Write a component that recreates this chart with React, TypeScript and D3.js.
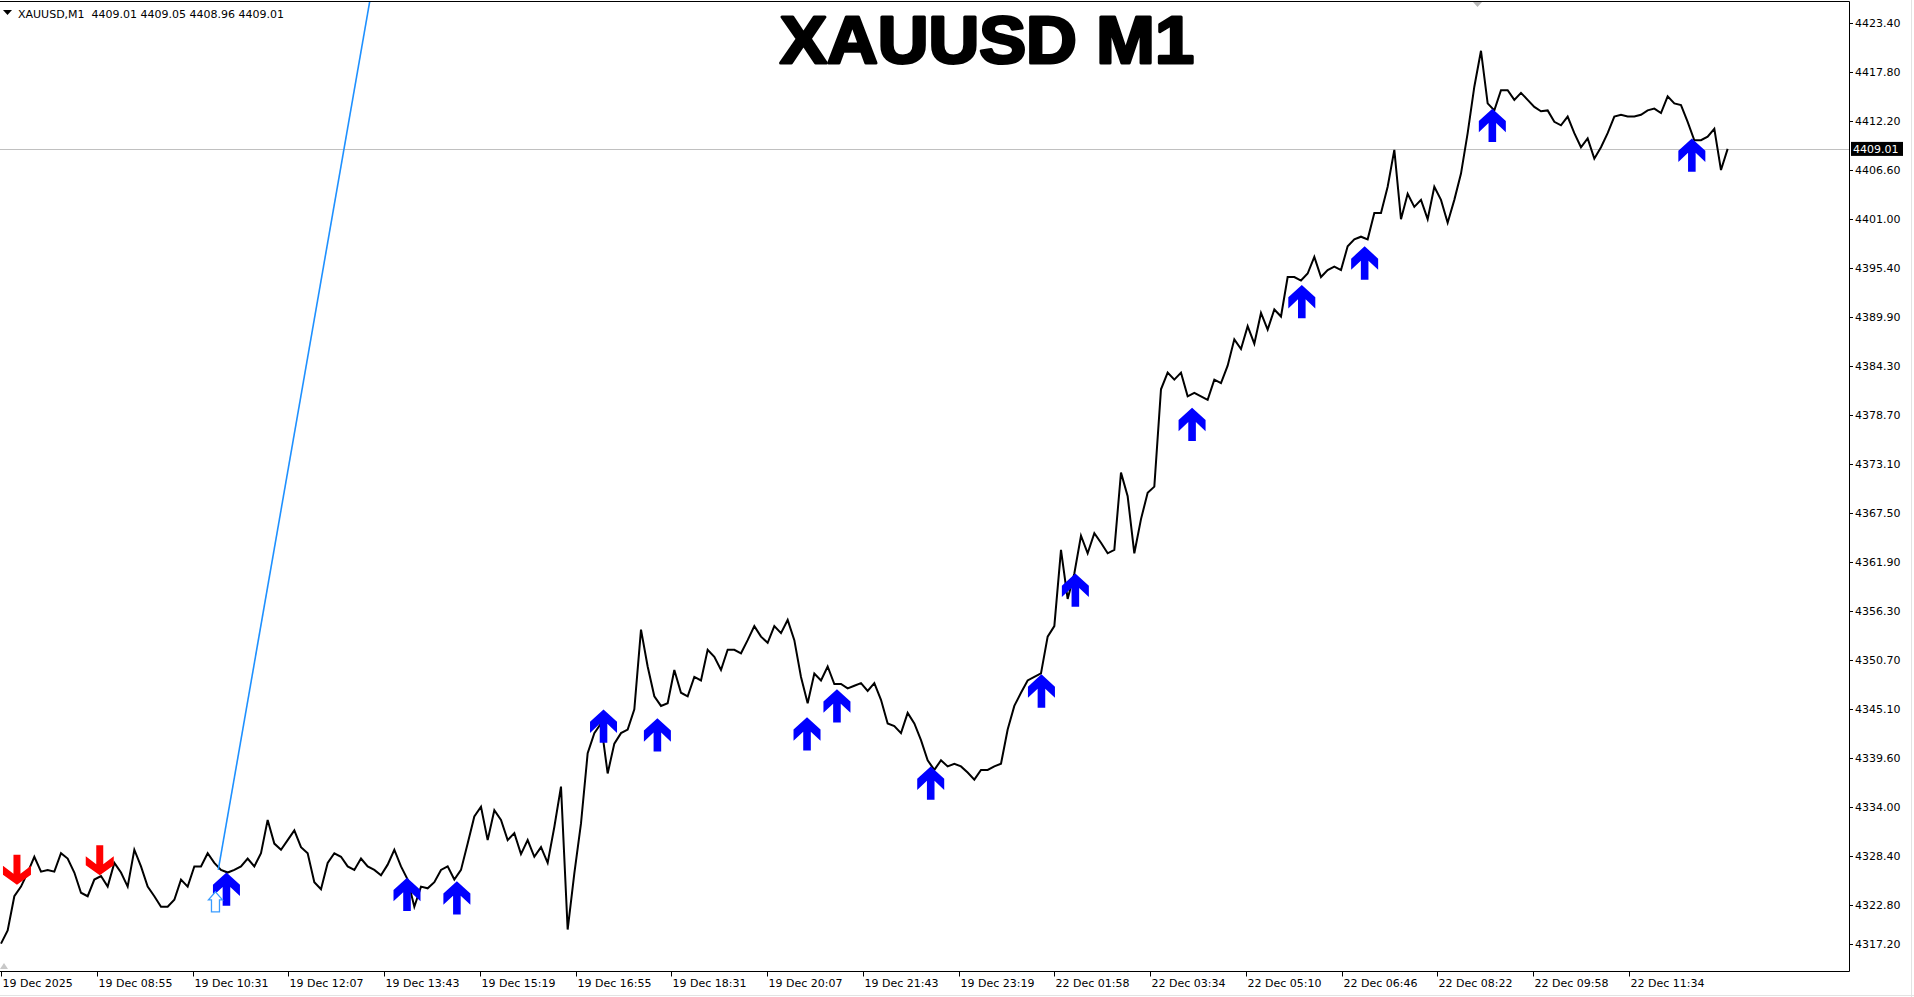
import React, { useEffect, useRef } from 'react';
import * as d3 from 'd3';

// XAUUSD M1 closes, one reading every SAMPLE_STEP minutes
const closes: number[] = [
  4318.4, 4319.9, 4323.8, 4324.9, 4326.5, 4328.3, 4326.6, 4326.8, 4326.6, 4328.7,
  4328.1, 4326.5, 4324.2, 4323.8, 4325.7, 4326.1, 4324.9, 4327.6, 4326.5, 4324.9,
  4329.1, 4327.2, 4324.9, 4323.8, 4322.6, 4322.6, 4323.4, 4325.7, 4324.9, 4327.2,
  4327.2, 4328.7, 4327.6, 4326.8, 4326.5, 4326.8, 4327.2, 4328.1, 4327.2, 4328.7,
  4332.5, 4329.8, 4329.1, 4330.2, 4331.3, 4329.4, 4328.7, 4325.4, 4324.6, 4327.6,
  4328.7, 4328.3, 4327.2, 4326.8, 4328.1, 4327.2, 4326.8, 4326.2, 4327.4, 4329.1,
  4327.2, 4325.7, 4322.6, 4324.9, 4324.7, 4325.4, 4326.8,
  4327.2, 4325.7, 4326.8, 4329.8, 4332.9, 4334.0, 4330.2, 4333.6, 4332.5, 4330.2,
  4331.0, 4328.6, 4330.2, 4328.3, 4329.4, 4327.6, 4331.7, 4336.3, 4320.0, 4326.4,
  4332.1, 4340.1, 4342.4, 4343.5, 4337.8, 4341.2, 4342.4, 4342.8, 4345.1, 4354.2,
  4350.0, 4346.6, 4345.5, 4345.8, 4349.6, 4347.0, 4346.6, 4348.8, 4348.4, 4351.9,
  4351.1, 4349.6, 4351.9, 4351.9, 4351.5, 4353.0, 4354.6, 4353.4, 4352.7, 4354.6,
  4353.8, 4355.3, 4353.0, 4348.8, 4345.8, 4349.2, 4348.4, 4350.0, 4348.0, 4348.0,
  4347.5,
  4347.8, 4348.1, 4347.2, 4348.1, 4346.2, 4343.5, 4343.2, 4342.4, 4344.7, 4343.5,
  4341.6, 4339.3, 4338.2, 4339.3, 4338.6, 4338.9, 4338.6, 4337.9, 4337.1, 4338.2,
  4338.2, 4338.6, 4338.9, 4342.8, 4345.5, 4347.0, 4348.4, 4348.8, 4349.2, 4353.4,
  4354.6, 4363.3, 4357.7, 4360.6, 4364.9, 4362.9, 4365.2, 4364.1, 4362.9, 4363.3,
  4372.1, 4369.4, 4362.9, 4366.8, 4369.8, 4370.5, 4381.6, 4383.5, 4382.7, 4383.5,
  4380.8, 4381.2, 4380.8, 4380.4, 4382.7, 4382.3,
  4384.3, 4387.3, 4386.2, 4388.8, 4386.8, 4390.3, 4388.4, 4390.7, 4389.9, 4394.4,
  4394.4, 4394.0, 4394.8, 4396.7, 4394.4, 4395.2, 4395.6, 4395.2, 4397.9, 4398.7,
  4399.0, 4398.7, 4401.7, 4401.7, 4404.7, 4408.9, 4401.0, 4403.9, 4402.4, 4403.2,
  4401.0, 4404.7, 4403.2, 4400.6, 4403.2, 4406.2, 4410.8,
  4416.1, 4420.2, 4414.2, 4413.4, 4415.7, 4415.7, 4414.6, 4415.4, 4414.6, 4413.8,
  4413.3, 4413.4, 4412.1, 4411.7, 4412.7, 4410.8, 4409.2, 4410.2, 4407.9, 4409.2,
  4410.8, 4412.7, 4412.9, 4412.7, 4412.7, 4412.9, 4413.4, 4413.6, 4413.1, 4415.0,
  4414.2, 4414.0, 4412.1, 4410.0, 4410.0, 4410.4, 4411.3, 4406.6, 4409.01,
];
const SAMPLE_STEP = 6.683;

const timeLabels = [
  '19 Dec 2025', '19 Dec 08:55', '19 Dec 10:31', '19 Dec 12:07', '19 Dec 13:43',
  '19 Dec 15:19', '19 Dec 16:55', '19 Dec 18:31', '19 Dec 20:07', '19 Dec 21:43',
  '19 Dec 23:19', '22 Dec 01:58', '22 Dec 03:34', '22 Dec 05:10', '22 Dec 06:46',
  '22 Dec 08:22', '22 Dec 09:58', '22 Dec 11:34',
];
const TIME_LABEL_STEP = 96; // bars between time labels

const priceTicks = [
  4423.4, 4417.8, 4412.2, 4406.6, 4401.0, 4395.4, 4389.9, 4384.3, 4378.7, 4373.1,
  4367.5, 4361.9, 4356.3, 4350.7, 4345.1, 4339.6, 4334.0, 4328.4, 4322.8, 4317.2,
];

// signal arrows (bar index, price at the arrow tip)
const buyBars = [226, 407, 457, 604, 658, 808, 838, 932, 1043, 1077, 1194, 1304, 1367, 1495, 1695];
const buyPrices = [4326.5, 4325.9, 4325.5, 4345.1, 4344.1, 4344.2, 4347.4, 4338.6, 4349.1, 4360.6, 4379.5, 4393.5, 4397.9, 4413.6, 4410.2];
const sellBars = [16, 99];
const sellPrices = [4325.1, 4326.2];

const tradeBars = [215];
const tradePrices = [4324.3];

const trendBars = [217.8, 369.9];
const trendPrices = [4326.8, 4426.0];

const symbol = 'XAUUSD,M1';
const quote = ['4409.01', '4409.05', '4408.96', '4409.01'];
const bid = 4409.01;

const App: React.FC = () => {
  const svgRef = useRef<SVGSVGElement>(null);

  useEffect(() => {
    const W = 1914, H = 997;
    const left = 0, right = 1849.5, top = 1.5, bottom = 971.5;
    const axisFont = 'DejaVu Sans, Tahoma, sans-serif';

    const svg = d3.select(svgRef.current)
      .attr('width', W)
      .attr('height', H);
    svg.selectAll('*').remove();

    const x = d3.scaleLinear().domain([0, 1632]).range([1, 1629]);
    const y = d3.scaleLinear().domain([4322.8, 4423.4]).range([905, 22.7]);

    svg.append('rect').attr('width', W).attr('height', H).attr('fill', '#fff');

    // outer window edges
    svg.append('line').attr('x1', 1911.5).attr('x2', 1911.5).attr('y1', 0).attr('y2', H)
      .attr('stroke', '#e3e3e3');
    svg.append('line').attr('x1', 0).attr('x2', W).attr('y1', 995.5).attr('y2', 995.5)
      .attr('stroke', '#e3e3e3');

    svg.append('clipPath').attr('id', 'plot-clip')
      .append('rect').attr('x', left).attr('y', top).attr('width', right - left).attr('height', bottom - top);

    const plot = svg.append('g').attr('clip-path', 'url(#plot-clip)');

    // bid line
    plot.append('line')
      .attr('x1', left).attr('x2', right)
      .attr('y1', Math.round(y(bid)) + 0.5).attr('y2', Math.round(y(bid)) + 0.5)
      .attr('stroke', '#c0c0c0');

    // price series
    const line = d3.line<number>()
      .x((_, i) => x(i * SAMPLE_STEP))
      .y(d => y(d));
    plot.append('path')
      .datum(closes)
      .attr('d', line)
      .attr('fill', 'none')
      .attr('stroke', '#000')
      .attr('stroke-width', 2)
      .attr('stroke-linejoin', 'miter');

    // trend line
    plot.append('line')
      .attr('x1', x(trendBars[0])).attr('y1', y(trendPrices[0]))
      .attr('x2', x(trendBars[1])).attr('y2', y(trendPrices[1]))
      .attr('stroke', '#1e90ff')
      .attr('stroke-width', 1.6);

    // arrows
    const arrowUp = 'M0,0 L13.5,12.3 L13.5,23.5 L3.8,14.4 L3.8,33.3 L-3.8,33.3 L-3.8,14.4 L-13.5,23.5 L-13.5,12.3 Z';
    const arrowDown = 'M0,0 L14,-10 L14,-19 L3.5,-11 L3.5,-30 L-3.5,-30 L-3.5,-11 L-14,-19 L-14,-10 Z';

    plot.selectAll('.buy')
      .data(buyBars)
      .enter()
      .append('path')
      .attr('class', 'buy')
      .attr('d', arrowUp)
      .attr('transform', (d, i) => `translate(${x(d)},${y(buyPrices[i])})`)
      .attr('fill', '#0000ff');

    plot.selectAll('.sell')
      .data(sellBars)
      .enter()
      .append('path')
      .attr('class', 'sell')
      .attr('d', arrowDown)
      .attr('transform', (d, i) => `translate(${x(d)},${y(sellPrices[i])})`)
      .attr('fill', '#ff0000');

    plot.selectAll('.trade')
      .data(tradeBars)
      .enter()
      .append('path')
      .attr('class', 'trade')
      .attr('d', 'M0,0 L7,8 L4,8 L4,20 L-4,20 L-4,8 L-7,8 Z')
      .attr('transform', (d, i) => `translate(${x(d)},${y(tradePrices[i])})`)
      .attr('fill', '#fff')
      .attr('stroke', '#3a9cff')
      .attr('stroke-width', 1.3);

    // frame
    svg.append('path')
      .attr('d', `M${left},${top} H${right} V${bottom} H${left}`)
      .attr('fill', 'none')
      .attr('stroke', '#000')
      .attr('stroke-width', 1);

    // small shift markers
    svg.append('path').attr('d', 'M1473,2 L1482,2 L1477.5,7 Z').attr('fill', '#b8b8b8');
    svg.append('path').attr('d', 'M0,969 L4,963 L8,969 Z').attr('fill', '#c8c8c8');

    // price axis
    const pa = svg.append('g');
    priceTicks.forEach(v => {
      const py = Math.min(y(v), bottom - 28);
      pa.append('line')
        .attr('x1', right).attr('x2', right + 3.5)
        .attr('y1', Math.round(py) + 0.5).attr('y2', Math.round(py) + 0.5)
        .attr('stroke', '#000');
      pa.append('text')
        .attr('x', 1855).attr('y', py + 4)
        .attr('font-family', axisFont).attr('font-size', 11)
        .attr('fill', '#000')
        .text(v.toFixed(2));
    });

    // bid label
    const by = y(bid);
    pa.append('rect')
      .attr('x', 1851).attr('y', by - 7).attr('width', 52).attr('height', 14)
      .attr('fill', '#000');
    pa.append('text')
      .attr('x', 1853).attr('y', by + 4)
      .attr('font-family', axisFont).attr('font-size', 11)
      .attr('fill', '#fff')
      .text(bid.toFixed(2));

    // time axis
    const ta = svg.append('g');
    timeLabels.forEach((t, i) => {
      const tx = Math.round(x(i * TIME_LABEL_STEP)) + 0.5;
      ta.append('line')
        .attr('x1', tx).attr('x2', tx)
        .attr('y1', bottom).attr('y2', bottom + 5)
        .attr('stroke', '#000');
      ta.append('text')
        .attr('x', tx + 1).attr('y', 987)
        .attr('font-family', axisFont).attr('font-size', 11)
        .attr('fill', '#000')
        .text(t);
    });

    // header
    svg.append('path').attr('d', 'M3,10 L12,10 L7.5,15 Z').attr('fill', '#000');
    svg.append('text')
      .attr('x', 18).attr('y', 17.5)
      .attr('font-family', axisFont).attr('font-size', 11)
      .attr('fill', '#000')
      .style('white-space', 'pre')
      .text(`${symbol}  ${quote.join(' ')}`);

    // title
    svg.append('text')
      .attr('x', 780).attr('y', 63)
      .attr('font-family', 'Liberation Sans, Arial, sans-serif')
      .attr('font-weight', 'bold')
      .attr('font-size', 66)
      .attr('textLength', 414)
      .attr('lengthAdjust', 'spacingAndGlyphs')
      .attr('fill', '#000')
      .attr('stroke', '#000')
      .attr('stroke-width', 3)
      .attr('stroke-linejoin', 'round')
      .text('XAUUSD M1');
  }, []);

  return <svg ref={svgRef} style={{ position: 'absolute', left: 0, top: 0, display: 'block' }}></svg>;
};

export default App;
